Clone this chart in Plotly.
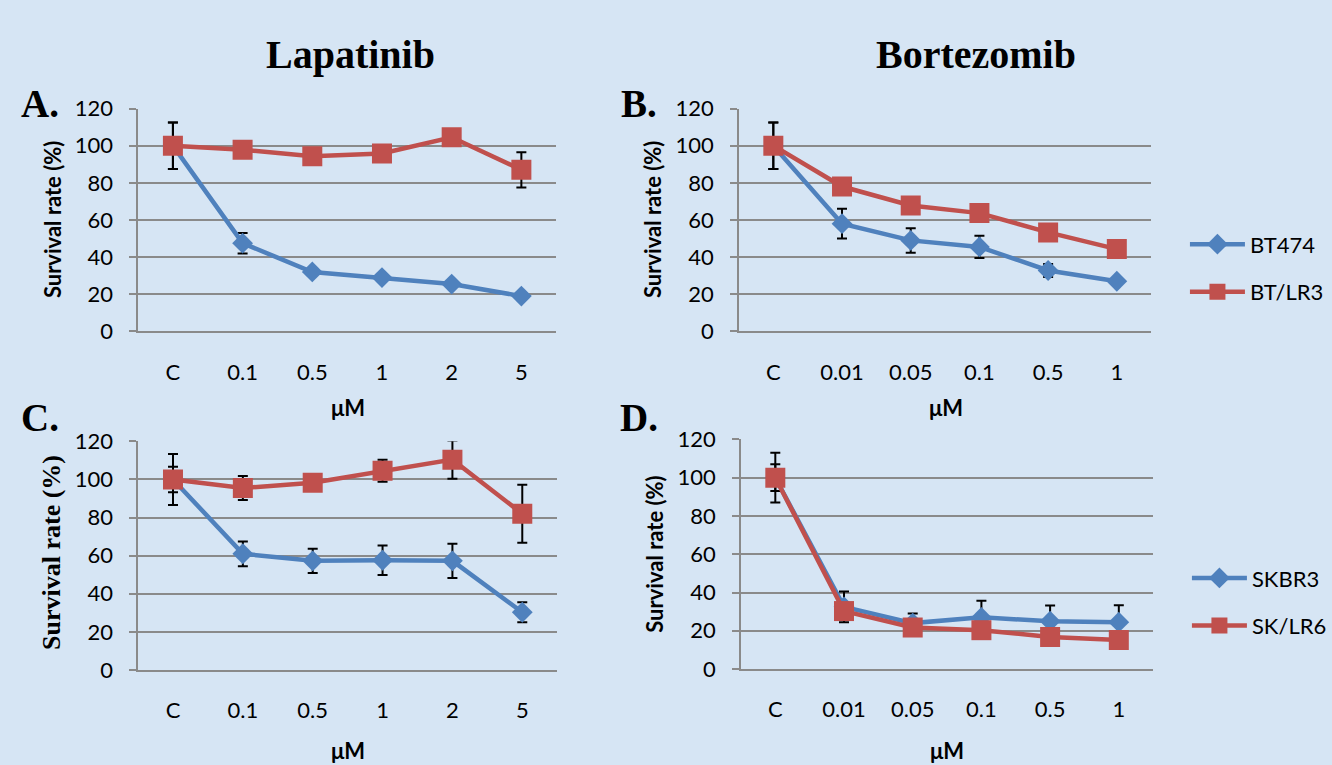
import plotly.graph_objects as go

# ---------------- data ----------------
doses_lap = ["C", "0.1", "0.5", "1", "2", "5"]
doses_bor = ["C", "0.01", "0.05", "0.1", "0.5", "1"]

# Panel A: Lapatinib, BT474 vs BT/LR3
bt474_lap = [100, 47.5, 32, 29, 25.5, 19]
bt474_lap_err = [12.5, 5.5, 0, 0, 0, 0]
btlr3_lap = [100, 97.8, 94.3, 95.8, 104.5, 87]
btlr3_lap_err = [12.5, 0, 0, 0, 0, 9.5]

# Panel B: Bortezomib, BT474 vs BT/LR3
bt474_bor = [100, 58, 49, 45.5, 32.8, 27]
bt474_bor_err = [12.5, 8, 6.6, 6, 3.5, 0]
btlr3_bor = [100, 78, 67.8, 63.7, 53.3, 44.3]
btlr3_bor_err = [12.5, 0, 0, 0, 0, 0]

# Panel C: Lapatinib, SKBR3 vs SK/LR6
skbr3_lap = [100, 61, 57.3, 57.6, 57.3, 30.3]
skbr3_lap_err = [13.4, 6.5, 6.4, 7.7, 9, 5.3]
sklr6_lap = [100, 95.5, 98.3, 104.6, 110.4, 82]
sklr6_lap_err = [6.7, 6.3, 2, 5.8, 10, 15.2]

# Panel D: Bortezomib, SKBR3 vs SK/LR6
skbr3_bor = [100, 32.5, 24, 27, 25, 24.5]
skbr3_bor_err = [13, 8, 5, 8.7, 8.2, 8.8]
sklr6_bor = [100, 30.3, 21.7, 20.3, 16.8, 15.2]
sklr6_bor_err = [7, 0, 0, 0, 0, 0]

y_ticks = [0, 20, 40, 60, 80, 100, 120]

# ---------------- style ----------------
W, H = 1332, 765
BLUE = "#4f81bd"
RED = "#c0504d"
GRID = "#8a8a8a"
BG = "#d6e5f4"
TICKFONT = dict(family="Lato, 'Open Sans', sans-serif", size=22, color="black")
SANSB = "Lato, 'Open Sans', sans-serif"
SERIF = "'Liberation Serif', 'Times New Roman', serif"

fig = go.Figure()

def px_x(v):
    return v / W

def px_y(v):
    return 1 - v / H

panels = [
    ("", (139, 560), (98, 329), doses_lap,
     [("BT474", bt474_lap, bt474_lap_err, BLUE, "diamond", "legend"),
      ("BT/LR3", btlr3_lap, btlr3_lap_err, RED, "square", "legend")]),
    ("2", (744, 1159), (98, 329), doses_bor,
     [("BT474", bt474_bor, bt474_bor_err, BLUE, "diamond", None),
      ("BT/LR3", btlr3_bor, btlr3_bor_err, RED, "square", None)]),
    ("3", (139, 561), (443, 680), doses_lap,
     [("SKBR3", skbr3_lap, skbr3_lap_err, BLUE, "diamond", "legend2"),
      ("SK/LR6", sklr6_lap, sklr6_lap_err, RED, "square", "legend2")]),
    ("4", (746, 1161), (441, 679), doses_bor,
     [("SKBR3", skbr3_bor, skbr3_bor_err, BLUE, "diamond", None),
      ("SK/LR6", sklr6_bor, sklr6_bor_err, RED, "square", None)]),
]

layout_axes = {}
for name, (x0, x1), (yt, yb), cats, series in panels:
    for label, vals, errs, col, sym, leg in series:
        tr = dict(
            x=cats, y=vals, name=label, mode="lines+markers",
            xaxis="x" + name, yaxis="y" + name,
            line=dict(color=col, width=4.5),
            marker=dict(symbol=sym, size=20 if sym == "square" else 16, color=col,
                        line=dict(width=0)),
            error_y=dict(type="data", array=errs, visible=True, color="black",
                         thickness=2, width=5),
            showlegend=leg is not None,
            legendgroup=label,
        )
        if leg is not None:
            tr["legend"] = leg
        fig.add_trace(go.Scatter(**tr))
    layout_axes["xaxis" + name] = dict(
        domain=[px_x(x0), px_x(x1)], anchor="y" + name,
        type="category", categoryorder="array", categoryarray=cats,
        range=[-0.5, 5.5], showgrid=False, zeroline=False,
        showline=True, linecolor=GRID, linewidth=1.5,
        ticks="", tickfont=TICKFONT, ticklabelstandoff=20,
        fixedrange=True,
    )
    layout_axes["yaxis" + name] = dict(
        domain=[px_y(yb), px_y(yt)], anchor="x" + name,
        range=[0, 120], tickvals=y_ticks, showgrid=True, gridcolor=GRID,
        gridwidth=1.5, zeroline=False, showline=True, linecolor=GRID,
        linewidth=1.5, ticks="outside", ticklen=7, tickcolor=GRID,
        tickwidth=1.5, tickfont=TICKFONT, ticklabelstandoff=12,
        fixedrange=True,
    )

annotations = []

def text(x, y, s, font, angle=0):
    annotations.append(dict(
        x=px_x(x), y=px_y(y), xref="paper", yref="paper", text=s,
        showarrow=False, font=font, textangle=angle,
        xanchor="center", yanchor="middle"))

title_font = dict(family=SERIF, size=40, color="black")
text(353, 42, "<b>Lapatinib</b>", title_font)
text(983, 42, "<b>Bortezomib</b>", title_font)

lbl_font = dict(family=SERIF, size=39, color="black")
text(40, 93, "<b>A.</b>", lbl_font)
text(643, 93, "<b>B.</b>", lbl_font)
text(40, 418, "<b>C.</b>", lbl_font)
text(643, 418, "<b>D.</b>", lbl_font)

ytitle_sans = dict(family=SANSB, size=22, color="black")
ytitle_serif = dict(family=SERIF, size=26, color="black")
text(53, 213, "<b>Survival rate (%)</b>", ytitle_sans, -90)
text(657, 213, "<b>Survival rate (%)</b>", ytitle_sans, -90)
text(52, 558, "<b>Survival rate (%)</b>", ytitle_serif, -90)
text(659, 560, "<b>Survival rate (%)</b>", ytitle_sans, -90)

mu_font = dict(family=SANSB, size=22, color="black")
text(350, 408, "<b>μM</b>", mu_font)
text(952, 408, "<b>μM</b>", mu_font)
text(350, 763, "<b>μM</b>", mu_font)
text(953, 763, "<b>μM</b>", mu_font)

legend_common = dict(
    xanchor="left", yanchor="top", bgcolor="rgba(0,0,0,0)",
    font=dict(family="Lato, 'Open Sans', sans-serif", size=22, color="black"),
    tracegroupgap=16, itemclick=False, itemdoubleclick=False, itemwidth=55,
)

fig.update_layout(
    width=W, height=H,
    margin=dict(l=0, r=0, t=0, b=0),
    paper_bgcolor=BG, plot_bgcolor="rgba(0,0,0,0)",
    annotations=annotations,
    legend=dict(x=px_x(1193), y=px_y(217), **legend_common),
    legend2=dict(x=px_x(1195), y=px_y(563), **legend_common),
    **layout_axes,
)

post = (
    "document.documentElement.style.overflow='hidden';"
    "document.body.style.margin='0';"
    "document.body.style.overflow='hidden';"
    "var g=document.getElementById('{plot_id}');"
    "g.style.position='fixed';g.style.left='0px';g.style.top='0px';"
)

fig.write_html("out.html", config={"displayModeBar": False}, post_script=post)
